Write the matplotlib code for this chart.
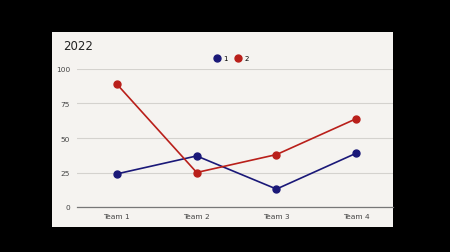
import matplotlib
matplotlib.use("Agg")
import matplotlib.pyplot as plt
from matplotlib.patches import Rectangle

teams = ["Team 1", "Team 2", "Team 3", "Team 4"]
series_1 = [24, 37, 13, 39]
series_2 = [89, 25, 38, 64]
yticks = [0, 25, 50, 75, 100]

blue = "#1a1878"
red = "#b91f1a"

fig = plt.figure(figsize=(4.5, 2.53), dpi=100)
fig.patch.set_facecolor("black")

# the photographed screen, kept behind the axes
screen = Rectangle((52 / 450, 1 - 228 / 253), (393 - 52) / 450, (228 - 33) / 253,
                   transform=fig.transFigure, facecolor="#f5f3f0", edgecolor="none", zorder=-1)
fig.patches.append(screen)

ax = fig.add_axes([77 / 450, 1 - 208 / 253, (393 - 77) / 450, (208 - 70) / 253])
ax.set_facecolor("none")
x = range(len(teams))
ax.plot(x, series_1, color=blue, lw=1.2, marker="o", ms=5, clip_on=False, label="1", zorder=3)
ax.plot(x, series_2, color=red, lw=1.2, marker="o", ms=5, clip_on=False, label="2", zorder=3)

ax.set_xlim(-0.5, 3.46)
ax.set_ylim(0, 100)
ax.set_yticks(yticks)
ax.set_xticks(list(x))
ax.set_xticklabels(teams)
ax.grid(axis="y", color="#d4d2ce", lw=0.8)
ax.tick_params(length=0, labelsize=5.3, labelcolor="#444444", pad=4)
ax.tick_params(axis="y", pad=5)
for s in ["top", "right", "left"]:
    ax.spines[s].set_visible(False)
ax.spines["bottom"].set_color("#777777")
ax.spines["bottom"].set_linewidth(0.9)

ax.legend(loc="lower center", bbox_to_anchor=(0.49, 1.01), ncol=2, frameon=False,
          fontsize=5, handlelength=0.6, columnspacing=1.2, handletextpad=0.6,
          markerscale=1.0)
for line in ax.get_legend().get_lines():
    line.set_linestyle("none")

fig.text(63 / 450, 1 - 46 / 253, "2022", fontsize=8.5, color="#222222", va="center")

fig.savefig("out.png", dpi=100, facecolor=fig.get_facecolor())
